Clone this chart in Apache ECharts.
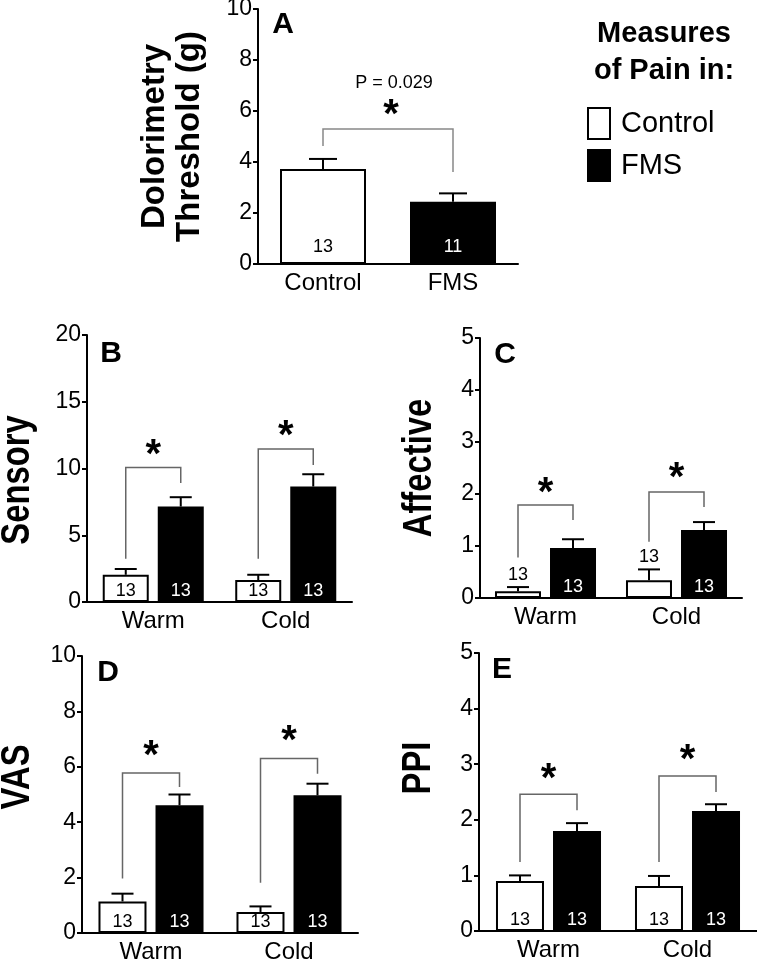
<!DOCTYPE html>
<html><head><meta charset="utf-8">
<script src="https://cdn.jsdelivr.net/npm/echarts@6.0.0/dist/echarts.min.js"></script>
<style>html,body{margin:0;padding:0;background:#fff}#c{width:757px;height:961px}</style>
</head><body><div id="c"></div>
<script>
// ---------- data ----------
const seriesNames = ['Control', 'FMS'];
const panelACategories = ['Control', 'FMS'];
const groupCategories = ['Warm', 'Cold'];

const dolorimetryMean = [3.73, 2.44];
const dolorimetrySem  = [0.39, 0.33];
const dolorimetryN    = [13, 11];

const sensoryControl    = [2.04, 1.64];
const sensoryControlSem = [0.43, 0.40];
const sensoryFMS        = [7.15, 8.65];
const sensoryFMSSem     = [0.70, 0.92];

const affectiveControl    = [0.13, 0.34];
const affectiveControlSem = [0.08, 0.21];
const affectiveFMS        = [0.96, 1.31];
const affectiveFMSSem     = [0.17, 0.15];

const vasControl    = [1.14, 0.76];
const vasControlSem = [0.28, 0.20];
const vasFMS        = [4.61, 4.97];
const vasFMSSem     = [0.39, 0.42];

const ppiControl    = [0.90, 0.81];
const ppiControlSem = [0.10, 0.18];
const ppiFMS        = [1.80, 2.16];
const ppiFMSSem     = [0.14, 0.12];

const groupN = [13, 13];

// significance brackets in data units: [left leg bottom, bracket top, right leg bottom, star level]
const dolorimetryBracket = [[4.63, 5.29, 3.61, 6.0]];
const dolorimetryPText = 'P = 0.029';
const dolorimetryPLevel = 7.1;
const sensoryBrackets   = [[3.24, 10.07, 8.92, 11.3], [3.24, 11.47, 10.27, 12.7]];
const affectiveBrackets = [[0.78, 1.79, 1.50, 2.1], [1.08, 2.04, 1.75, 2.38]];
const vasBrackets       = [[1.97, 5.78, 5.27, 6.55], [1.81, 6.30, 5.75, 7.08]];
const ppiBrackets       = [[1.24, 2.46, 2.17, 2.8], [1.24, 2.79, 2.50, 3.14]];

// ---------- layout ----------
const FONT = "'Liberation Sans', Arial, sans-serif";

const grids = [], xAxes = [], yAxes = [], series = [];

function addAxes(g, cats, max, interval, yName) {
  grids.push({left: g.left, top: g.top, width: g.width, height: g.height, containLabel: false, outerBoundsMode: 'none'});
  const idx = grids.length - 1;
  xAxes.push({
    type: 'category', gridIndex: idx, data: cats,
    axisLine: {lineStyle: {color: '#000', width: 2}},
    axisTick: {show: false},
    axisLabel: {color: '#000', fontSize: 24, fontFamily: FONT, margin: 7},
    splitLine: {show: false}
  });
  const y = {
    type: 'value', gridIndex: idx, min: 0, max: max, interval: interval,
    axisLine: {show: true, lineStyle: {color: '#000', width: 2}},
    axisTick: {show: true, length: 5, lineStyle: {color: '#000', width: 2}},
    axisLabel: {color: '#000', fontSize: 23, fontFamily: FONT, margin: 6},
    splitLine: {show: false}
  };
  if (yName) {
    Object.assign(y, {name: yName, nameLocation: 'middle', nameRotate: 90, nameGap: 51,
      nameTextStyle: {color: '#000', fontSize: 33, fontWeight: 'bold', fontFamily: FONT, lineHeight: 35}});
  }
  yAxes.push(y);
  return idx;
}

function errorSeries(idx, means, sems, offset, capW, aboveLabels) {
  return {
    type: 'custom', xAxisIndex: idx, yAxisIndex: idx, z: 4, silent: true,
    data: means.map((m, i) => [i, m, sems[i]]),
    renderItem(params, api) {
      const i = api.value(0), m = api.value(1), s = api.value(2);
      const b = api.coord([i, m]), t = api.coord([i, m + s]);
      const x = b[0] + offset;
      const ch = [
        {type: 'line', shape: {x1: x, y1: b[1], x2: x, y2: t[1]}, style: {stroke: '#000', lineWidth: 2}},
        {type: 'line', shape: {x1: x - capW / 2, y1: t[1], x2: x + capW / 2, y2: t[1]}, style: {stroke: '#000', lineWidth: 2}}
      ];
      if (aboveLabels) {
        ch.push({type: 'text', x: x, y: t[1] - 3, style: {text: String(aboveLabels[params.dataIndex]), fill: '#000', fontSize: 18, fontFamily: FONT, align: 'center', verticalAlign: 'bottom'}});
      }
      return {type: 'group', children: ch};
    }
  };
}

function starText(x, y) {
  return {type: 'text', x: x, y: y + 5, style: {text: '*', fill: '#000', fontSize: 40, fontWeight: 'bold', fontFamily: FONT, align: 'center', verticalAlign: 'middle'}};
}

function bracketSeries(idx, brackets, offset, color) {
  return {
    type: 'custom', xAxisIndex: idx, yAxisIndex: idx, z: 4, silent: true,
    data: brackets.map((b, i) => [i, b[0], b[1], b[2], b[3]]),
    renderItem(params, api) {
      const i = api.value(0);
      const c = api.coord([i, 0])[0];
      const xl = c - offset, xr = c + offset;
      const yl = api.coord([i, api.value(1)])[1];
      const yt = api.coord([i, api.value(2)])[1];
      const yr = api.coord([i, api.value(3)])[1];
      const ys = api.coord([i, api.value(4)])[1];
      return {type: 'group', children: [
        {type: 'polyline', shape: {points: [[xl, yl], [xl, yt], [xr, yt], [xr, yr]]}, style: {stroke: color, lineWidth: 1.5, fill: null}},
        starText((xl + xr) / 2, ys)
      ]};
    }
  };
}

function barLabel(color, nArr, distance) {
  return {show: true, position: 'insideBottom', distance: distance, color: color, fontSize: 18, fontFamily: FONT,
          formatter: p => String(nArr[p.dataIndex])};
}

// ----- Panel A -----
(function () {
  const idx = addAxes({left: 258, top: 9, width: 260, height: 255}, panelACategories, 10, 2, 'Dolorimetry\nThreshold (g)');
  const ctrl = dolorimetryMean.map((v, i) => i === 0 ? v : '-');
  const fms = dolorimetryMean.map((v, i) => i === 1 ? v : '-');
  series.push({name: seriesNames[0], type: 'bar', xAxisIndex: idx, yAxisIndex: idx, data: ctrl, barWidth: 86, barGap: '-100%',
    itemStyle: {color: '#fff', borderColor: '#000', borderWidth: 2}, label: barLabel('#000', dolorimetryN, 8)});
  series.push({name: seriesNames[1], type: 'bar', xAxisIndex: idx, yAxisIndex: idx, data: fms, barWidth: 86, barGap: '-100%',
    itemStyle: {color: '#000', borderColor: '#000', borderWidth: 2}, label: barLabel('#fff', dolorimetryN, 8)});
  series.push(errorSeries(idx, dolorimetryMean, dolorimetrySem, 0, 28));
  series.push({
    type: 'custom', xAxisIndex: idx, yAxisIndex: idx, z: 4, silent: true,
    data: dolorimetryBracket.map(b => [0, b[0], b[1], b[2], b[3]]),
    renderItem(params, api) {
      const xl = api.coord([0, 0])[0], xr = api.coord([1, 0])[0];
      const yl = api.coord([0, api.value(1)])[1];
      const yt = api.coord([0, api.value(2)])[1];
      const yr = api.coord([0, api.value(3)])[1];
      const ys = api.coord([0, api.value(4)])[1];
      const yp = api.coord([0, dolorimetryPLevel])[1];
      return {type: 'group', children: [
        {type: 'polyline', shape: {points: [[xl, yl], [xl, yt], [xr, yt], [xr, yr]]}, style: {stroke: '#888', lineWidth: 1.5, fill: null}},
        starText((xl + xr) / 2 + 3, ys),
        {type: 'text', x: (xl + xr) / 2 + 6, y: yp, style: {text: dolorimetryPText, fill: '#000', fontSize: 18, fontFamily: FONT, align: 'center', verticalAlign: 'middle'}}
      ]};
    }
  });
})();

// ----- Panels B–E -----
function groupedPanel(g, max, interval, ctrl, ctrlSem, fms, fmsSem, brackets, bw, gapPx, ctrlLabelAbove) {
  const idx = addAxes(g, groupCategories, max, interval, null);
  const offset = (bw + gapPx) / 2;
  const gapPct = (gapPx / bw * 100).toFixed(1) + '%';
  series.push({name: seriesNames[0], type: 'bar', xAxisIndex: idx, yAxisIndex: idx, data: ctrl, barWidth: bw, barGap: gapPct,
    itemStyle: {color: '#fff', borderColor: '#000', borderWidth: 2},
    label: ctrlLabelAbove ? {show: false} : barLabel('#000', groupN, 2)});
  series.push({name: seriesNames[1], type: 'bar', xAxisIndex: idx, yAxisIndex: idx, data: fms, barWidth: bw, barGap: gapPct,
    itemStyle: {color: '#000', borderColor: '#000', borderWidth: 2}, label: barLabel('#fff', groupN, 2)});
  series.push(errorSeries(idx, ctrl, ctrlSem, -offset, 22, ctrlLabelAbove ? groupN : null));
  series.push(errorSeries(idx, fms, fmsSem, offset, 22));
  series.push(bracketSeries(idx, brackets, offset, '#666'));
}

groupedPanel({left: 87, top: 335, width: 265, height: 267}, 20, 5,
  sensoryControl, sensoryControlSem, sensoryFMS, sensoryFMSSem, sensoryBrackets, 46, 9, false);
groupedPanel({left: 480, top: 338, width: 262, height: 260}, 5, 1,
  affectiveControl, affectiveControlSem, affectiveFMS, affectiveFMSSem, affectiveBrackets, 46, 9, true);
groupedPanel({left: 82, top: 656, width: 276, height: 277}, 10, 2,
  vasControl, vasControlSem, vasFMS, vasFMSSem, vasBrackets, 48, 9, false);
groupedPanel({left: 479, top: 653, width: 278, height: 278}, 5, 1,
  ppiControl, ppiControlSem, ppiFMS, ppiFMSSem, ppiBrackets, 48, 9, false);

// ---------- free text ----------
const panelLetters = [['A', 283, 25], ['B', 111, 354], ['C', 505, 355], ['D', 108, 673], ['E', 502, 670]];
const graphic = panelLetters.map(p => ({
  type: 'text', x: p[1], y: p[2], z: 10,
  style: {text: p[0], fontSize: 30, fontWeight: 'bold', fontFamily: FONT, fill: '#000', align: 'center', verticalAlign: 'middle'}
}));
const yTitles = [['Sensory', 18, 480], ['Affective', 420, 468], ['VAS', 18, 777], ['PPI', 419, 768]];
yTitles.forEach(t => graphic.push({
  type: 'text', x: t[1], y: t[2], rotation: Math.PI / 2, scaleX: 0.82, scaleY: 1, z: 10,
  style: {text: t[0], fontSize: 40, fontWeight: 'bold', fontFamily: FONT, fill: '#000', align: 'center', verticalAlign: 'middle'}
}));
graphic.push({type: 'text', x: 664, y: 52, z: 10,
  style: {text: 'Measures\nof Pain in:', fontSize: 29, fontWeight: 'bold', fontFamily: FONT, fill: '#000', align: 'center', verticalAlign: 'middle', lineHeight: 37}});

const chart = echarts.init(document.getElementById('c'), null, {renderer: 'canvas'});
chart.setOption({
  animation: false,
  backgroundColor: '#fff',
  grid: grids, xAxis: xAxes, yAxis: yAxes, series: series,
  legend: {
    show: true, orient: 'vertical', left: 587, top: 107, padding: 0, itemWidth: 22, itemHeight: 31, itemGap: 9,
    icon: 'rect', selectedMode: false,
    textStyle: {fontSize: 29, fontFamily: FONT, color: '#000', padding: [0, 0, 0, 6]},
    data: [
      {name: 'Control', itemStyle: {color: '#fff', borderColor: '#000', borderWidth: 2}},
      {name: 'FMS', itemStyle: {color: '#000', borderColor: '#000', borderWidth: 2}}
    ]
  },
  graphic: graphic
});
</script>
</body></html>
